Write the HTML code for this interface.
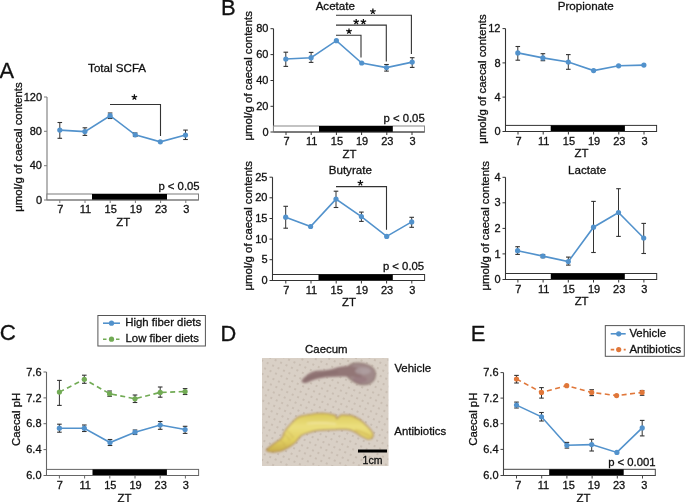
<!DOCTYPE html>
<html><head><meta charset="utf-8"><style>
html,body{margin:0;padding:0;background:#fff;width:685px;height:502px;overflow:hidden}
svg{display:block;will-change:transform}
text{font-family:"Liberation Sans", sans-serif}
</style></head><body>
<svg width="685" height="502" viewBox="0 0 685 502">
<rect width="685" height="502" fill="#fff"/>
<text x="-0.6" y="77.6" font-size="21.8" text-anchor="start" fill="#111" stroke="#111" stroke-width="0.3" >A</text>
<line x1="47" y1="97" x2="47" y2="200" stroke="#7a7a7a" stroke-width="1.1" />
<line x1="44" y1="200" x2="47" y2="200" stroke="#7a7a7a" stroke-width="1" />
<text x="42" y="203.6" font-size="11.0" text-anchor="end" fill="#111" stroke="#111" stroke-width="0.3" >0</text>
<line x1="44" y1="165.7" x2="47" y2="165.7" stroke="#7a7a7a" stroke-width="1" />
<text x="42" y="169.29999999999998" font-size="11.0" text-anchor="end" fill="#111" stroke="#111" stroke-width="0.3" >40</text>
<line x1="44" y1="131.3" x2="47" y2="131.3" stroke="#7a7a7a" stroke-width="1" />
<text x="42" y="134.9" font-size="11.0" text-anchor="end" fill="#111" stroke="#111" stroke-width="0.3" >80</text>
<line x1="44" y1="97" x2="47" y2="97" stroke="#7a7a7a" stroke-width="1" />
<text x="42" y="100.6" font-size="11.0" text-anchor="end" fill="#111" stroke="#111" stroke-width="0.3" >120</text>
<rect x="47" y="194" width="151.5" height="6" fill="#fff" stroke="#7a7a7a" stroke-width="1"/>
<rect x="92" y="194" width="75" height="6" fill="#000"/>
<line x1="47" y1="200" x2="198.5" y2="200" stroke="#7a7a7a" stroke-width="1.1" />
<line x1="59.8" y1="200" x2="59.8" y2="203" stroke="#7a7a7a" stroke-width="1" />
<text x="60.3" y="213.3" font-size="11.0" text-anchor="middle" fill="#111" stroke="#111" stroke-width="0.3" >7</text>
<line x1="85.0" y1="200" x2="85.0" y2="203" stroke="#7a7a7a" stroke-width="1" />
<text x="85.5" y="213.3" font-size="11.0" text-anchor="middle" fill="#111" stroke="#111" stroke-width="0.3" >11</text>
<line x1="110.19999999999999" y1="200" x2="110.19999999999999" y2="203" stroke="#7a7a7a" stroke-width="1" />
<text x="110.69999999999999" y="213.3" font-size="11.0" text-anchor="middle" fill="#111" stroke="#111" stroke-width="0.3" >15</text>
<line x1="135.39999999999998" y1="200" x2="135.39999999999998" y2="203" stroke="#7a7a7a" stroke-width="1" />
<text x="135.89999999999998" y="213.3" font-size="11.0" text-anchor="middle" fill="#111" stroke="#111" stroke-width="0.3" >19</text>
<line x1="160.6" y1="200" x2="160.6" y2="203" stroke="#7a7a7a" stroke-width="1" />
<text x="161.1" y="213.3" font-size="11.0" text-anchor="middle" fill="#111" stroke="#111" stroke-width="0.3" >23</text>
<line x1="185.8" y1="200" x2="185.8" y2="203" stroke="#7a7a7a" stroke-width="1" />
<text x="186.3" y="213.3" font-size="11.0" text-anchor="middle" fill="#111" stroke="#111" stroke-width="0.3" >3</text>
<text x="123.25" y="225.8" font-size="11.4" text-anchor="middle" fill="#111" stroke="#111" stroke-width="0.3" >ZT</text>
<text transform="translate(22.0,147) rotate(-90)" x="0" y="0" font-size="11.4" text-anchor="middle" fill="#111" stroke="#111" stroke-width="0.3">&#956;mol/g of caecal contents</text>
<text x="117.1" y="71.7" font-size="11.6" text-anchor="middle" fill="#111" stroke="#111" stroke-width="0.3" >Total SCFA</text>
<text x="199.6" y="189.5" font-size="11.3" text-anchor="end" fill="#111" stroke="#111" stroke-width="0.3" >p &lt; 0.05</text>
<path d="M110,104.5 L160.5,104.5 L160.5,136" fill="none" stroke="#333" stroke-width="1.1"/>
<path d="M134.40,97.20 L134.40,94.30 M134.40,97.20 L137.16,96.30 M134.40,97.20 L136.10,99.55 M134.40,97.20 L132.70,99.55 M134.40,97.20 L131.64,96.30 " stroke="#111" stroke-width="1.25" stroke-linecap="butt" fill="none"/>
<path d="M59.8,130.1 L84.9,131.6 L110.1,115.7 L135.2,134.8 L160.3,141.8 L185.5,135.1" fill="none" stroke="#5292cc" stroke-width="1.6" />
<line x1="59.8" y1="122.5" x2="59.8" y2="138.3" stroke="#333" stroke-width="1" />
<line x1="57.5" y1="122.5" x2="62.099999999999994" y2="122.5" stroke="#333" stroke-width="1.1" />
<line x1="57.5" y1="138.3" x2="62.099999999999994" y2="138.3" stroke="#333" stroke-width="1.1" />
<line x1="84.9" y1="127.8" x2="84.9" y2="135.4" stroke="#333" stroke-width="1" />
<line x1="82.60000000000001" y1="127.8" x2="87.2" y2="127.8" stroke="#333" stroke-width="1.1" />
<line x1="82.60000000000001" y1="135.4" x2="87.2" y2="135.4" stroke="#333" stroke-width="1.1" />
<line x1="110.1" y1="113" x2="110.1" y2="118.5" stroke="#333" stroke-width="1" />
<line x1="107.8" y1="113" x2="112.39999999999999" y2="113" stroke="#333" stroke-width="1.1" />
<line x1="107.8" y1="118.5" x2="112.39999999999999" y2="118.5" stroke="#333" stroke-width="1.1" />
<line x1="135.2" y1="133" x2="135.2" y2="136.5" stroke="#333" stroke-width="1" />
<line x1="132.89999999999998" y1="133" x2="137.5" y2="133" stroke="#333" stroke-width="1.1" />
<line x1="132.89999999999998" y1="136.5" x2="137.5" y2="136.5" stroke="#333" stroke-width="1.1" />
<line x1="185.5" y1="130.1" x2="185.5" y2="139.5" stroke="#333" stroke-width="1" />
<line x1="183.2" y1="130.1" x2="187.8" y2="130.1" stroke="#333" stroke-width="1.1" />
<line x1="183.2" y1="139.5" x2="187.8" y2="139.5" stroke="#333" stroke-width="1.1" />
<circle cx="59.8" cy="130.1" r="2.6" fill="#5292cc"/>
<circle cx="84.9" cy="131.6" r="2.6" fill="#5292cc"/>
<circle cx="110.1" cy="115.7" r="2.6" fill="#5292cc"/>
<circle cx="135.2" cy="134.8" r="2.6" fill="#5292cc"/>
<circle cx="160.3" cy="141.8" r="2.6" fill="#5292cc"/>
<circle cx="185.5" cy="135.1" r="2.6" fill="#5292cc"/>
<text x="221.1" y="15.15" font-size="22" text-anchor="start" fill="#111" stroke="#111" stroke-width="0.3" >B</text>
<line x1="273.5" y1="28.7" x2="273.5" y2="132.0" stroke="#333" stroke-width="1.1" />
<line x1="270.5" y1="132.0" x2="273.5" y2="132.0" stroke="#333" stroke-width="1" />
<text x="268.5" y="135.6" font-size="11.0" text-anchor="end" fill="#111" stroke="#111" stroke-width="0.3" >0</text>
<line x1="270.5" y1="106.3" x2="273.5" y2="106.3" stroke="#333" stroke-width="1" />
<text x="268.5" y="109.89999999999999" font-size="11.0" text-anchor="end" fill="#111" stroke="#111" stroke-width="0.3" >20</text>
<line x1="270.5" y1="80.5" x2="273.5" y2="80.5" stroke="#333" stroke-width="1" />
<text x="268.5" y="84.1" font-size="11.0" text-anchor="end" fill="#111" stroke="#111" stroke-width="0.3" >40</text>
<line x1="270.5" y1="54.6" x2="273.5" y2="54.6" stroke="#333" stroke-width="1" />
<text x="268.5" y="58.2" font-size="11.0" text-anchor="end" fill="#111" stroke="#111" stroke-width="0.3" >60</text>
<line x1="270.5" y1="28.7" x2="273.5" y2="28.7" stroke="#333" stroke-width="1" />
<text x="268.5" y="32.3" font-size="11.0" text-anchor="end" fill="#111" stroke="#111" stroke-width="0.3" >80</text>
<rect x="273.5" y="126" width="151.0" height="6.0" fill="#fff" stroke="#888" stroke-width="1"/>
<rect x="319" y="126" width="73.80000000000001" height="6.0" fill="#000"/>
<line x1="273.5" y1="132.0" x2="424.5" y2="132.0" stroke="#333" stroke-width="1.1" />
<line x1="286.0" y1="132.0" x2="286.0" y2="135.0" stroke="#333" stroke-width="1" />
<text x="286.5" y="145.3" font-size="11.0" text-anchor="middle" fill="#111" stroke="#111" stroke-width="0.3" >7</text>
<line x1="311.2" y1="132.0" x2="311.2" y2="135.0" stroke="#333" stroke-width="1" />
<text x="311.7" y="145.3" font-size="11.0" text-anchor="middle" fill="#111" stroke="#111" stroke-width="0.3" >11</text>
<line x1="336.4" y1="132.0" x2="336.4" y2="135.0" stroke="#333" stroke-width="1" />
<text x="336.9" y="145.3" font-size="11.0" text-anchor="middle" fill="#111" stroke="#111" stroke-width="0.3" >15</text>
<line x1="361.6" y1="132.0" x2="361.6" y2="135.0" stroke="#333" stroke-width="1" />
<text x="362.1" y="145.3" font-size="11.0" text-anchor="middle" fill="#111" stroke="#111" stroke-width="0.3" >19</text>
<line x1="386.8" y1="132.0" x2="386.8" y2="135.0" stroke="#333" stroke-width="1" />
<text x="387.3" y="145.3" font-size="11.0" text-anchor="middle" fill="#111" stroke="#111" stroke-width="0.3" >23</text>
<line x1="412.0" y1="132.0" x2="412.0" y2="135.0" stroke="#333" stroke-width="1" />
<text x="412.5" y="145.3" font-size="11.0" text-anchor="middle" fill="#111" stroke="#111" stroke-width="0.3" >3</text>
<text x="349.5" y="157.8" font-size="11.4" text-anchor="middle" fill="#111" stroke="#111" stroke-width="0.3" >ZT</text>
<text transform="translate(251.5,75.8) rotate(-90)" x="0" y="0" font-size="11.4" text-anchor="middle" fill="#111" stroke="#111" stroke-width="0.3">&#956;mol/g of caecal contents</text>
<text x="335.3" y="9.9" font-size="11.6" text-anchor="middle" fill="#111" stroke="#111" stroke-width="0.3" >Acetate</text>
<text x="424.7" y="121.9" font-size="11.3" text-anchor="end" fill="#111" stroke="#111" stroke-width="0.3" >p &lt; 0.05</text>
<path d="M336,35.3 L361,35.3 L361,57.5" fill="none" stroke="#333" stroke-width="1.1"/>
<path d="M349.00,31.30 L349.00,28.40 M349.00,31.30 L351.76,30.40 M349.00,31.30 L350.70,33.65 M349.00,31.30 L347.30,33.65 M349.00,31.30 L346.24,30.40 " stroke="#111" stroke-width="1.25" stroke-linecap="butt" fill="none"/>
<path d="M336,25.1 L386.3,25.1 L386.3,61.5" fill="none" stroke="#333" stroke-width="1.1"/>
<path d="M356.20,21.80 L356.20,18.90 M356.20,21.80 L358.96,20.90 M356.20,21.80 L357.90,24.15 M356.20,21.80 L354.50,24.15 M356.20,21.80 L353.44,20.90 " stroke="#111" stroke-width="1.25" stroke-linecap="butt" fill="none"/>
<path d="M363.40,21.80 L363.40,18.90 M363.40,21.80 L366.16,20.90 M363.40,21.80 L365.10,24.15 M363.40,21.80 L361.70,24.15 M363.40,21.80 L360.64,20.90 " stroke="#111" stroke-width="1.25" stroke-linecap="butt" fill="none"/>
<path d="M336,15.2 L411.4,15.2 L411.4,54" fill="none" stroke="#333" stroke-width="1.1"/>
<path d="M372.90,11.50 L372.90,8.60 M372.90,11.50 L375.66,10.60 M372.90,11.50 L374.60,13.85 M372.90,11.50 L371.20,13.85 M372.90,11.50 L370.14,10.60 " stroke="#111" stroke-width="1.25" stroke-linecap="butt" fill="none"/>
<path d="M285.8,59 L311.1,57.7 L336.4,40.7 L361.7,63 L386.5,67.6 L412.2,62.1" fill="none" stroke="#5292cc" stroke-width="1.6" />
<line x1="285.8" y1="52.2" x2="285.8" y2="66.4" stroke="#333" stroke-width="1" />
<line x1="283.5" y1="52.2" x2="288.1" y2="52.2" stroke="#333" stroke-width="1.1" />
<line x1="283.5" y1="66.4" x2="288.1" y2="66.4" stroke="#333" stroke-width="1.1" />
<line x1="311.1" y1="52.4" x2="311.1" y2="62.4" stroke="#333" stroke-width="1" />
<line x1="308.8" y1="52.4" x2="313.40000000000003" y2="52.4" stroke="#333" stroke-width="1.1" />
<line x1="308.8" y1="62.4" x2="313.40000000000003" y2="62.4" stroke="#333" stroke-width="1.1" />
<line x1="386.5" y1="64.5" x2="386.5" y2="71.1" stroke="#333" stroke-width="1" />
<line x1="384.2" y1="64.5" x2="388.8" y2="64.5" stroke="#333" stroke-width="1.1" />
<line x1="384.2" y1="71.1" x2="388.8" y2="71.1" stroke="#333" stroke-width="1.1" />
<line x1="412.2" y1="57.7" x2="412.2" y2="67.4" stroke="#333" stroke-width="1" />
<line x1="409.9" y1="57.7" x2="414.5" y2="57.7" stroke="#333" stroke-width="1.1" />
<line x1="409.9" y1="67.4" x2="414.5" y2="67.4" stroke="#333" stroke-width="1.1" />
<circle cx="285.8" cy="59" r="2.6" fill="#5292cc"/>
<circle cx="311.1" cy="57.7" r="2.6" fill="#5292cc"/>
<circle cx="336.4" cy="40.7" r="2.6" fill="#5292cc"/>
<circle cx="361.7" cy="63" r="2.6" fill="#5292cc"/>
<circle cx="386.5" cy="67.6" r="2.6" fill="#5292cc"/>
<circle cx="412.2" cy="62.1" r="2.6" fill="#5292cc"/>
<line x1="505.5" y1="28.6" x2="505.5" y2="131.5" stroke="#333" stroke-width="1.1" />
<line x1="502.5" y1="131.5" x2="505.5" y2="131.5" stroke="#333" stroke-width="1" />
<text x="500.5" y="135.1" font-size="11.0" text-anchor="end" fill="#111" stroke="#111" stroke-width="0.3" >0</text>
<line x1="502.5" y1="97.1" x2="505.5" y2="97.1" stroke="#333" stroke-width="1" />
<text x="500.5" y="100.69999999999999" font-size="11.0" text-anchor="end" fill="#111" stroke="#111" stroke-width="0.3" >4</text>
<line x1="502.5" y1="62.9" x2="505.5" y2="62.9" stroke="#333" stroke-width="1" />
<text x="500.5" y="66.5" font-size="11.0" text-anchor="end" fill="#111" stroke="#111" stroke-width="0.3" >8</text>
<line x1="502.5" y1="28.6" x2="505.5" y2="28.6" stroke="#333" stroke-width="1" />
<text x="500.5" y="32.2" font-size="11.0" text-anchor="end" fill="#111" stroke="#111" stroke-width="0.3" >12</text>
<rect x="505.5" y="125.4" width="151.10000000000002" height="6.099999999999994" fill="#fff" stroke="#333" stroke-width="1"/>
<rect x="550.7" y="125.4" width="74.19999999999993" height="6.099999999999994" fill="#000"/>
<line x1="505.5" y1="131.5" x2="656.6" y2="131.5" stroke="#333" stroke-width="1.1" />
<line x1="518.0" y1="131.5" x2="518.0" y2="134.5" stroke="#333" stroke-width="1" />
<text x="518.5" y="144.8" font-size="11.0" text-anchor="middle" fill="#111" stroke="#111" stroke-width="0.3" >7</text>
<line x1="543.2" y1="131.5" x2="543.2" y2="134.5" stroke="#333" stroke-width="1" />
<text x="543.7" y="144.8" font-size="11.0" text-anchor="middle" fill="#111" stroke="#111" stroke-width="0.3" >11</text>
<line x1="568.4" y1="131.5" x2="568.4" y2="134.5" stroke="#333" stroke-width="1" />
<text x="568.9" y="144.8" font-size="11.0" text-anchor="middle" fill="#111" stroke="#111" stroke-width="0.3" >15</text>
<line x1="593.6" y1="131.5" x2="593.6" y2="134.5" stroke="#333" stroke-width="1" />
<text x="594.1" y="144.8" font-size="11.0" text-anchor="middle" fill="#111" stroke="#111" stroke-width="0.3" >19</text>
<line x1="618.8" y1="131.5" x2="618.8" y2="134.5" stroke="#333" stroke-width="1" />
<text x="619.3" y="144.8" font-size="11.0" text-anchor="middle" fill="#111" stroke="#111" stroke-width="0.3" >23</text>
<line x1="644.0" y1="131.5" x2="644.0" y2="134.5" stroke="#333" stroke-width="1" />
<text x="644.5" y="144.8" font-size="11.0" text-anchor="middle" fill="#111" stroke="#111" stroke-width="0.3" >3</text>
<text x="581.55" y="157.3" font-size="11.4" text-anchor="middle" fill="#111" stroke="#111" stroke-width="0.3" >ZT</text>
<text transform="translate(485.7,79) rotate(-90)" x="0" y="0" font-size="11.4" text-anchor="middle" fill="#111" stroke="#111" stroke-width="0.3">&#956;mol/g of caecal contents</text>
<text x="585.7" y="9.9" font-size="11.6" text-anchor="middle" fill="#111" stroke="#111" stroke-width="0.3" >Propionate</text>
<path d="M517.8,52.9 L542.9,57.9 L568.3,62 L593.6,70.6 L618.6,65.8 L643.9,65.1" fill="none" stroke="#5292cc" stroke-width="1.6" />
<line x1="517.8" y1="46.5" x2="517.8" y2="60.2" stroke="#333" stroke-width="1" />
<line x1="515.5" y1="46.5" x2="520.0999999999999" y2="46.5" stroke="#333" stroke-width="1.1" />
<line x1="515.5" y1="60.2" x2="520.0999999999999" y2="60.2" stroke="#333" stroke-width="1.1" />
<line x1="542.9" y1="53.7" x2="542.9" y2="60.7" stroke="#333" stroke-width="1" />
<line x1="540.6" y1="53.7" x2="545.1999999999999" y2="53.7" stroke="#333" stroke-width="1.1" />
<line x1="540.6" y1="60.7" x2="545.1999999999999" y2="60.7" stroke="#333" stroke-width="1.1" />
<line x1="568.3" y1="54.6" x2="568.3" y2="69.3" stroke="#333" stroke-width="1" />
<line x1="566.0" y1="54.6" x2="570.5999999999999" y2="54.6" stroke="#333" stroke-width="1.1" />
<line x1="566.0" y1="69.3" x2="570.5999999999999" y2="69.3" stroke="#333" stroke-width="1.1" />
<circle cx="517.8" cy="52.9" r="2.6" fill="#5292cc"/>
<circle cx="542.9" cy="57.9" r="2.6" fill="#5292cc"/>
<circle cx="568.3" cy="62" r="2.6" fill="#5292cc"/>
<circle cx="593.6" cy="70.6" r="2.6" fill="#5292cc"/>
<circle cx="618.6" cy="65.8" r="2.6" fill="#5292cc"/>
<circle cx="643.9" cy="65.1" r="2.6" fill="#5292cc"/>
<line x1="272.5" y1="177.2" x2="272.5" y2="280.5" stroke="#333" stroke-width="1.1" />
<line x1="269.5" y1="280.5" x2="272.5" y2="280.5" stroke="#333" stroke-width="1" />
<text x="267.5" y="284.1" font-size="11.0" text-anchor="end" fill="#111" stroke="#111" stroke-width="0.3" >0</text>
<line x1="269.5" y1="259.7" x2="272.5" y2="259.7" stroke="#333" stroke-width="1" />
<text x="267.5" y="263.3" font-size="11.0" text-anchor="end" fill="#111" stroke="#111" stroke-width="0.3" >5</text>
<line x1="269.5" y1="239.1" x2="272.5" y2="239.1" stroke="#333" stroke-width="1" />
<text x="267.5" y="242.7" font-size="11.0" text-anchor="end" fill="#111" stroke="#111" stroke-width="0.3" >10</text>
<line x1="269.5" y1="218.5" x2="272.5" y2="218.5" stroke="#333" stroke-width="1" />
<text x="267.5" y="222.1" font-size="11.0" text-anchor="end" fill="#111" stroke="#111" stroke-width="0.3" >15</text>
<line x1="269.5" y1="197.8" x2="272.5" y2="197.8" stroke="#333" stroke-width="1" />
<text x="267.5" y="201.4" font-size="11.0" text-anchor="end" fill="#111" stroke="#111" stroke-width="0.3" >20</text>
<line x1="269.5" y1="177.2" x2="272.5" y2="177.2" stroke="#333" stroke-width="1" />
<text x="267.5" y="180.79999999999998" font-size="11.0" text-anchor="end" fill="#111" stroke="#111" stroke-width="0.3" >25</text>
<rect x="272.5" y="274.5" width="152.10000000000002" height="6.0" fill="#fff" stroke="#333" stroke-width="1"/>
<rect x="318.5" y="274.5" width="74.30000000000001" height="6.0" fill="#000"/>
<line x1="272.5" y1="280.5" x2="424.6" y2="280.5" stroke="#333" stroke-width="1.1" />
<line x1="285.8" y1="280.5" x2="285.8" y2="283.5" stroke="#333" stroke-width="1" />
<text x="286.3" y="293.8" font-size="11.0" text-anchor="middle" fill="#111" stroke="#111" stroke-width="0.3" >7</text>
<line x1="311.0" y1="280.5" x2="311.0" y2="283.5" stroke="#333" stroke-width="1" />
<text x="311.5" y="293.8" font-size="11.0" text-anchor="middle" fill="#111" stroke="#111" stroke-width="0.3" >11</text>
<line x1="336.2" y1="280.5" x2="336.2" y2="283.5" stroke="#333" stroke-width="1" />
<text x="336.7" y="293.8" font-size="11.0" text-anchor="middle" fill="#111" stroke="#111" stroke-width="0.3" >15</text>
<line x1="361.4" y1="280.5" x2="361.4" y2="283.5" stroke="#333" stroke-width="1" />
<text x="361.9" y="293.8" font-size="11.0" text-anchor="middle" fill="#111" stroke="#111" stroke-width="0.3" >19</text>
<line x1="386.6" y1="280.5" x2="386.6" y2="283.5" stroke="#333" stroke-width="1" />
<text x="387.1" y="293.8" font-size="11.0" text-anchor="middle" fill="#111" stroke="#111" stroke-width="0.3" >23</text>
<line x1="411.8" y1="280.5" x2="411.8" y2="283.5" stroke="#333" stroke-width="1" />
<text x="412.3" y="293.8" font-size="11.0" text-anchor="middle" fill="#111" stroke="#111" stroke-width="0.3" >3</text>
<text x="349.05" y="306.3" font-size="11.4" text-anchor="middle" fill="#111" stroke="#111" stroke-width="0.3" >ZT</text>
<text transform="translate(251.5,225.8) rotate(-90)" x="0" y="0" font-size="11.4" text-anchor="middle" fill="#111" stroke="#111" stroke-width="0.3">&#956;mol/g of caecal contents</text>
<text x="350.3" y="174.1" font-size="11.6" text-anchor="middle" fill="#111" stroke="#111" stroke-width="0.3" >Butyrate</text>
<text x="424.1" y="269.6" font-size="11.3" text-anchor="end" fill="#111" stroke="#111" stroke-width="0.3" >p &lt; 0.05</text>
<path d="M336,186.6 L386.5,186.6 L386.5,229.8" fill="none" stroke="#333" stroke-width="1.1"/>
<path d="M360.40,183.00 L360.40,180.10 M360.40,183.00 L363.16,182.10 M360.40,183.00 L362.10,185.35 M360.40,183.00 L358.70,185.35 M360.40,183.00 L357.64,182.10 " stroke="#111" stroke-width="1.25" stroke-linecap="butt" fill="none"/>
<path d="M285.7,217.2 L310.6,226.5 L336,199.1 L361.4,216.6 L386.7,236.4 L411.7,221.9" fill="none" stroke="#5292cc" stroke-width="1.6" />
<line x1="285.7" y1="206.3" x2="285.7" y2="228.2" stroke="#333" stroke-width="1" />
<line x1="283.4" y1="206.3" x2="288.0" y2="206.3" stroke="#333" stroke-width="1.1" />
<line x1="283.4" y1="228.2" x2="288.0" y2="228.2" stroke="#333" stroke-width="1.1" />
<line x1="336" y1="191.2" x2="336" y2="207.5" stroke="#333" stroke-width="1" />
<line x1="333.7" y1="191.2" x2="338.3" y2="191.2" stroke="#333" stroke-width="1.1" />
<line x1="333.7" y1="207.5" x2="338.3" y2="207.5" stroke="#333" stroke-width="1.1" />
<line x1="361.4" y1="212.1" x2="361.4" y2="221.4" stroke="#333" stroke-width="1" />
<line x1="359.09999999999997" y1="212.1" x2="363.7" y2="212.1" stroke="#333" stroke-width="1.1" />
<line x1="359.09999999999997" y1="221.4" x2="363.7" y2="221.4" stroke="#333" stroke-width="1.1" />
<line x1="411.7" y1="217.3" x2="411.7" y2="227.3" stroke="#333" stroke-width="1" />
<line x1="409.4" y1="217.3" x2="414.0" y2="217.3" stroke="#333" stroke-width="1.1" />
<line x1="409.4" y1="227.3" x2="414.0" y2="227.3" stroke="#333" stroke-width="1.1" />
<circle cx="285.7" cy="217.2" r="2.6" fill="#5292cc"/>
<circle cx="310.6" cy="226.5" r="2.6" fill="#5292cc"/>
<circle cx="336" cy="199.1" r="2.6" fill="#5292cc"/>
<circle cx="361.4" cy="216.6" r="2.6" fill="#5292cc"/>
<circle cx="386.7" cy="236.4" r="2.6" fill="#5292cc"/>
<circle cx="411.7" cy="221.9" r="2.6" fill="#5292cc"/>
<line x1="505.5" y1="177.3" x2="505.5" y2="279.5" stroke="#333" stroke-width="1.1" />
<line x1="502.5" y1="279.5" x2="505.5" y2="279.5" stroke="#333" stroke-width="1" />
<text x="500.5" y="283.1" font-size="11.0" text-anchor="end" fill="#111" stroke="#111" stroke-width="0.3" >0</text>
<line x1="502.5" y1="253.9" x2="505.5" y2="253.9" stroke="#333" stroke-width="1" />
<text x="500.5" y="257.5" font-size="11.0" text-anchor="end" fill="#111" stroke="#111" stroke-width="0.3" >1</text>
<line x1="502.5" y1="228.4" x2="505.5" y2="228.4" stroke="#333" stroke-width="1" />
<text x="500.5" y="232.0" font-size="11.0" text-anchor="end" fill="#111" stroke="#111" stroke-width="0.3" >2</text>
<line x1="502.5" y1="202.8" x2="505.5" y2="202.8" stroke="#333" stroke-width="1" />
<text x="500.5" y="206.4" font-size="11.0" text-anchor="end" fill="#111" stroke="#111" stroke-width="0.3" >3</text>
<line x1="502.5" y1="177.3" x2="505.5" y2="177.3" stroke="#333" stroke-width="1" />
<text x="500.5" y="180.9" font-size="11.0" text-anchor="end" fill="#111" stroke="#111" stroke-width="0.3" >4</text>
<rect x="505.5" y="273.5" width="151.20000000000005" height="6.0" fill="#fff" stroke="#333" stroke-width="1"/>
<rect x="550.8" y="273.5" width="74.0" height="6.0" fill="#000"/>
<line x1="505.5" y1="279.5" x2="656.7" y2="279.5" stroke="#333" stroke-width="1.1" />
<line x1="517.9" y1="279.5" x2="517.9" y2="282.5" stroke="#333" stroke-width="1" />
<text x="518.4" y="292.8" font-size="11.0" text-anchor="middle" fill="#111" stroke="#111" stroke-width="0.3" >7</text>
<line x1="543.1" y1="279.5" x2="543.1" y2="282.5" stroke="#333" stroke-width="1" />
<text x="543.6" y="292.8" font-size="11.0" text-anchor="middle" fill="#111" stroke="#111" stroke-width="0.3" >11</text>
<line x1="568.3" y1="279.5" x2="568.3" y2="282.5" stroke="#333" stroke-width="1" />
<text x="568.8" y="292.8" font-size="11.0" text-anchor="middle" fill="#111" stroke="#111" stroke-width="0.3" >15</text>
<line x1="593.5" y1="279.5" x2="593.5" y2="282.5" stroke="#333" stroke-width="1" />
<text x="594.0" y="292.8" font-size="11.0" text-anchor="middle" fill="#111" stroke="#111" stroke-width="0.3" >19</text>
<line x1="618.6999999999999" y1="279.5" x2="618.6999999999999" y2="282.5" stroke="#333" stroke-width="1" />
<text x="619.1999999999999" y="292.8" font-size="11.0" text-anchor="middle" fill="#111" stroke="#111" stroke-width="0.3" >23</text>
<line x1="643.9" y1="279.5" x2="643.9" y2="282.5" stroke="#333" stroke-width="1" />
<text x="644.4" y="292.8" font-size="11.0" text-anchor="middle" fill="#111" stroke="#111" stroke-width="0.3" >3</text>
<text x="581.6" y="305.3" font-size="11.4" text-anchor="middle" fill="#111" stroke="#111" stroke-width="0.3" >ZT</text>
<text transform="translate(488.5,225.8) rotate(-90)" x="0" y="0" font-size="11.4" text-anchor="middle" fill="#111" stroke="#111" stroke-width="0.3">&#956;mol/g of caecal contents</text>
<text x="587.1" y="174" font-size="11.6" text-anchor="middle" fill="#111" stroke="#111" stroke-width="0.3" >Lactate</text>
<path d="M517.6,250.7 L542.9,256.1 L568.3,261.6 L593.5,227.2 L618.5,212.5 L643.7,238" fill="none" stroke="#5292cc" stroke-width="1.6" />
<line x1="517.6" y1="246.7" x2="517.6" y2="254.4" stroke="#333" stroke-width="1" />
<line x1="515.3000000000001" y1="246.7" x2="519.9" y2="246.7" stroke="#333" stroke-width="1.1" />
<line x1="515.3000000000001" y1="254.4" x2="519.9" y2="254.4" stroke="#333" stroke-width="1.1" />
<line x1="542.9" y1="254.5" x2="542.9" y2="257.7" stroke="#333" stroke-width="1" />
<line x1="540.6" y1="254.5" x2="545.1999999999999" y2="254.5" stroke="#333" stroke-width="1.1" />
<line x1="540.6" y1="257.7" x2="545.1999999999999" y2="257.7" stroke="#333" stroke-width="1.1" />
<line x1="568.3" y1="257.1" x2="568.3" y2="265.1" stroke="#333" stroke-width="1" />
<line x1="566.0" y1="257.1" x2="570.5999999999999" y2="257.1" stroke="#333" stroke-width="1.1" />
<line x1="566.0" y1="265.1" x2="570.5999999999999" y2="265.1" stroke="#333" stroke-width="1.1" />
<line x1="593.5" y1="201.4" x2="593.5" y2="252.5" stroke="#333" stroke-width="1" />
<line x1="591.2" y1="201.4" x2="595.8" y2="201.4" stroke="#333" stroke-width="1.1" />
<line x1="591.2" y1="252.5" x2="595.8" y2="252.5" stroke="#333" stroke-width="1.1" />
<line x1="618.5" y1="188.7" x2="618.5" y2="236.4" stroke="#333" stroke-width="1" />
<line x1="616.2" y1="188.7" x2="620.8" y2="188.7" stroke="#333" stroke-width="1.1" />
<line x1="616.2" y1="236.4" x2="620.8" y2="236.4" stroke="#333" stroke-width="1.1" />
<line x1="643.7" y1="223.4" x2="643.7" y2="253.5" stroke="#333" stroke-width="1" />
<line x1="641.4000000000001" y1="223.4" x2="646.0" y2="223.4" stroke="#333" stroke-width="1.1" />
<line x1="641.4000000000001" y1="253.5" x2="646.0" y2="253.5" stroke="#333" stroke-width="1.1" />
<circle cx="517.6" cy="250.7" r="2.6" fill="#5292cc"/>
<circle cx="542.9" cy="256.1" r="2.6" fill="#5292cc"/>
<circle cx="568.3" cy="261.6" r="2.6" fill="#5292cc"/>
<circle cx="593.5" cy="227.2" r="2.6" fill="#5292cc"/>
<circle cx="618.5" cy="212.5" r="2.6" fill="#5292cc"/>
<circle cx="643.7" cy="238" r="2.6" fill="#5292cc"/>
<text x="-0.2" y="339.6" font-size="22.3" text-anchor="start" fill="#111" stroke="#111" stroke-width="0.3" >C</text>
<line x1="46.5" y1="372" x2="46.5" y2="475.5" stroke="#666" stroke-width="1.1" />
<line x1="43.5" y1="475.5" x2="46.5" y2="475.5" stroke="#666" stroke-width="1" />
<text x="41.5" y="479.1" font-size="11.0" text-anchor="end" fill="#111" stroke="#111" stroke-width="0.3" >6.0</text>
<line x1="43.5" y1="449.6" x2="46.5" y2="449.6" stroke="#666" stroke-width="1" />
<text x="41.5" y="453.20000000000005" font-size="11.0" text-anchor="end" fill="#111" stroke="#111" stroke-width="0.3" >6.4</text>
<line x1="43.5" y1="423.7" x2="46.5" y2="423.7" stroke="#666" stroke-width="1" />
<text x="41.5" y="427.3" font-size="11.0" text-anchor="end" fill="#111" stroke="#111" stroke-width="0.3" >6.8</text>
<line x1="43.5" y1="397.9" x2="46.5" y2="397.9" stroke="#666" stroke-width="1" />
<text x="41.5" y="401.5" font-size="11.0" text-anchor="end" fill="#111" stroke="#111" stroke-width="0.3" >7.2</text>
<line x1="43.5" y1="372" x2="46.5" y2="372" stroke="#666" stroke-width="1" />
<text x="41.5" y="375.6" font-size="11.0" text-anchor="end" fill="#111" stroke="#111" stroke-width="0.3" >7.6</text>
<rect x="46.5" y="469.4" width="152.1" height="6.100000000000023" fill="#fff" stroke="#666" stroke-width="1"/>
<rect x="92.5" y="469.4" width="74.4" height="6.100000000000023" fill="#000"/>
<line x1="46.5" y1="475.5" x2="198.6" y2="475.5" stroke="#666" stroke-width="1.1" />
<line x1="59.4" y1="475.5" x2="59.4" y2="478.5" stroke="#666" stroke-width="1" />
<text x="59.9" y="488.8" font-size="11.0" text-anchor="middle" fill="#111" stroke="#111" stroke-width="0.3" >7</text>
<line x1="84.6" y1="475.5" x2="84.6" y2="478.5" stroke="#666" stroke-width="1" />
<text x="85.1" y="488.8" font-size="11.0" text-anchor="middle" fill="#111" stroke="#111" stroke-width="0.3" >11</text>
<line x1="109.8" y1="475.5" x2="109.8" y2="478.5" stroke="#666" stroke-width="1" />
<text x="110.3" y="488.8" font-size="11.0" text-anchor="middle" fill="#111" stroke="#111" stroke-width="0.3" >15</text>
<line x1="135.0" y1="475.5" x2="135.0" y2="478.5" stroke="#666" stroke-width="1" />
<text x="135.5" y="488.8" font-size="11.0" text-anchor="middle" fill="#111" stroke="#111" stroke-width="0.3" >19</text>
<line x1="160.2" y1="475.5" x2="160.2" y2="478.5" stroke="#666" stroke-width="1" />
<text x="160.7" y="488.8" font-size="11.0" text-anchor="middle" fill="#111" stroke="#111" stroke-width="0.3" >23</text>
<line x1="185.4" y1="475.5" x2="185.4" y2="478.5" stroke="#666" stroke-width="1" />
<text x="185.9" y="488.8" font-size="11.0" text-anchor="middle" fill="#111" stroke="#111" stroke-width="0.3" >3</text>
<text x="124.45" y="502.3" font-size="11.4" text-anchor="middle" fill="#111" stroke="#111" stroke-width="0.3" >ZT</text>
<text transform="translate(19.8,419.4) rotate(-90)" x="0" y="0" font-size="11.4" text-anchor="middle" fill="#111" stroke="#111" stroke-width="0.3">Caecal pH</text>
<path d="M59.4,392.1 L84.3,379.3 L109.6,393.7 L135,398.8 L160.2,392.4 L185.1,391.6" fill="none" stroke="#72ab55" stroke-width="1.6" stroke-dasharray="5,3.5"/>
<line x1="59.4" y1="380.4" x2="59.4" y2="405.4" stroke="#333" stroke-width="1" />
<line x1="57.1" y1="380.4" x2="61.699999999999996" y2="380.4" stroke="#333" stroke-width="1.1" />
<line x1="57.1" y1="405.4" x2="61.699999999999996" y2="405.4" stroke="#333" stroke-width="1.1" />
<line x1="84.3" y1="375.2" x2="84.3" y2="383.3" stroke="#333" stroke-width="1" />
<line x1="82.0" y1="375.2" x2="86.6" y2="375.2" stroke="#333" stroke-width="1.1" />
<line x1="82.0" y1="383.3" x2="86.6" y2="383.3" stroke="#333" stroke-width="1.1" />
<line x1="109.6" y1="391" x2="109.6" y2="396.3" stroke="#333" stroke-width="1" />
<line x1="107.3" y1="391" x2="111.89999999999999" y2="391" stroke="#333" stroke-width="1.1" />
<line x1="107.3" y1="396.3" x2="111.89999999999999" y2="396.3" stroke="#333" stroke-width="1.1" />
<line x1="135" y1="395" x2="135" y2="402.5" stroke="#333" stroke-width="1" />
<line x1="132.7" y1="395" x2="137.3" y2="395" stroke="#333" stroke-width="1.1" />
<line x1="132.7" y1="402.5" x2="137.3" y2="402.5" stroke="#333" stroke-width="1.1" />
<line x1="160.2" y1="387" x2="160.2" y2="397.2" stroke="#333" stroke-width="1" />
<line x1="157.89999999999998" y1="387" x2="162.5" y2="387" stroke="#333" stroke-width="1.1" />
<line x1="157.89999999999998" y1="397.2" x2="162.5" y2="397.2" stroke="#333" stroke-width="1.1" />
<line x1="185.1" y1="388.6" x2="185.1" y2="394.5" stroke="#333" stroke-width="1" />
<line x1="182.79999999999998" y1="388.6" x2="187.4" y2="388.6" stroke="#333" stroke-width="1.1" />
<line x1="182.79999999999998" y1="394.5" x2="187.4" y2="394.5" stroke="#333" stroke-width="1.1" />
<circle cx="59.4" cy="392.1" r="2.6" fill="#72ab55"/>
<circle cx="84.3" cy="379.3" r="2.6" fill="#72ab55"/>
<circle cx="109.6" cy="393.7" r="2.6" fill="#72ab55"/>
<circle cx="135" cy="398.8" r="2.6" fill="#72ab55"/>
<circle cx="160.2" cy="392.4" r="2.6" fill="#72ab55"/>
<circle cx="185.1" cy="391.6" r="2.6" fill="#72ab55"/>
<path d="M59.4,428.2 L84.3,428.2 L110,442.5 L135,432.2 L160.2,425 L185.1,429.5" fill="none" stroke="#5292cc" stroke-width="1.6" />
<line x1="59.4" y1="424.2" x2="59.4" y2="432.2" stroke="#333" stroke-width="1" />
<line x1="57.1" y1="424.2" x2="61.699999999999996" y2="424.2" stroke="#333" stroke-width="1.1" />
<line x1="57.1" y1="432.2" x2="61.699999999999996" y2="432.2" stroke="#333" stroke-width="1.1" />
<line x1="84.3" y1="425" x2="84.3" y2="431.5" stroke="#333" stroke-width="1" />
<line x1="82.0" y1="425" x2="86.6" y2="425" stroke="#333" stroke-width="1.1" />
<line x1="82.0" y1="431.5" x2="86.6" y2="431.5" stroke="#333" stroke-width="1.1" />
<line x1="110" y1="439.5" x2="110" y2="445.5" stroke="#333" stroke-width="1" />
<line x1="107.7" y1="439.5" x2="112.3" y2="439.5" stroke="#333" stroke-width="1.1" />
<line x1="107.7" y1="445.5" x2="112.3" y2="445.5" stroke="#333" stroke-width="1.1" />
<line x1="135" y1="430" x2="135" y2="434.5" stroke="#333" stroke-width="1" />
<line x1="132.7" y1="430" x2="137.3" y2="430" stroke="#333" stroke-width="1.1" />
<line x1="132.7" y1="434.5" x2="137.3" y2="434.5" stroke="#333" stroke-width="1.1" />
<line x1="160.2" y1="421.5" x2="160.2" y2="429.3" stroke="#333" stroke-width="1" />
<line x1="157.89999999999998" y1="421.5" x2="162.5" y2="421.5" stroke="#333" stroke-width="1.1" />
<line x1="157.89999999999998" y1="429.3" x2="162.5" y2="429.3" stroke="#333" stroke-width="1.1" />
<line x1="185.1" y1="426.3" x2="185.1" y2="433.4" stroke="#333" stroke-width="1" />
<line x1="182.79999999999998" y1="426.3" x2="187.4" y2="426.3" stroke="#333" stroke-width="1.1" />
<line x1="182.79999999999998" y1="433.4" x2="187.4" y2="433.4" stroke="#333" stroke-width="1.1" />
<circle cx="59.4" cy="428.2" r="2.6" fill="#5292cc"/>
<circle cx="84.3" cy="428.2" r="2.6" fill="#5292cc"/>
<circle cx="110" cy="442.5" r="2.6" fill="#5292cc"/>
<circle cx="135" cy="432.2" r="2.6" fill="#5292cc"/>
<circle cx="160.2" cy="425" r="2.6" fill="#5292cc"/>
<circle cx="185.1" cy="429.5" r="2.6" fill="#5292cc"/>
<rect x="97.9" y="315.5" width="107.5" height="30.5" fill="#fff" stroke="#555" stroke-width="1"/>
<line x1="103" y1="323.2" x2="120" y2="323.2" stroke="#5292cc" stroke-width="1.6" />
<circle cx="111.5" cy="323.2" r="2.6" fill="#5292cc"/>
<line x1="103" y1="339.2" x2="120" y2="339.2" stroke="#72ab55" stroke-width="1.6" stroke-dasharray="3.5,3"/>
<circle cx="111.5" cy="339.2" r="2.6" fill="#72ab55"/>
<text x="125.2" y="326.3" font-size="11.4" text-anchor="start" fill="#111" stroke="#111" stroke-width="0.3" >High fiber diets</text>
<text x="125.5" y="342.2" font-size="11.4" text-anchor="start" fill="#111" stroke="#111" stroke-width="0.3" >Low fiber diets</text>
<text x="220.5" y="340.9" font-size="21.8" text-anchor="start" fill="#111" stroke="#111" stroke-width="0.3" >D</text>
<text x="326.3" y="352.8" font-size="11.4" text-anchor="middle" fill="#111" stroke="#111" stroke-width="0.3" >Caecum</text>
<text x="394.4" y="371.7" font-size="11.4" text-anchor="start" fill="#111" stroke="#111" stroke-width="0.3" >Vehicle</text>
<text x="394.3" y="434.8" font-size="11.4" text-anchor="start" fill="#111" stroke="#111" stroke-width="0.3" >Antibiotics</text>
<defs>
<pattern id="dots" x="262" y="358" width="6" height="6" patternUnits="userSpaceOnUse" patternTransform="rotate(25)">
<rect width="6" height="6" fill="#d9d0c6"/>
<circle cx="2" cy="2" r="0.9" fill="#c2b6aa"/>
</pattern>
<filter id="grain" x="0" y="0" width="100%" height="100%">
<feTurbulence type="fractalNoise" baseFrequency="0.35" numOctaves="2" seed="3" result="n"/>
<feColorMatrix in="n" type="matrix" values="0 0 0 0 0.5  0 0 0 0 0.45  0 0 0 0 0.4  0 0 0 0.22 0" result="c"/>
<feComposite in="c" in2="SourceGraphic" operator="in" result="cc"/>
<feBlend in="cc" in2="SourceGraphic" mode="multiply"/>
</filter>
<filter id="soft" x="-20%" y="-50%" width="140%" height="200%"><feGaussianBlur stdDeviation="0.9"/></filter>
<filter id="soft2" x="-20%" y="-50%" width="140%" height="200%"><feGaussianBlur stdDeviation="1.2"/></filter>
<linearGradient id="yel" x1="0" y1="0" x2="0" y2="1">
<stop offset="0" stop-color="#dac858"/><stop offset="0.35" stop-color="#ebdf7e"/><stop offset="0.7" stop-color="#e2d062"/><stop offset="1" stop-color="#c8ac4a"/>
</linearGradient>
</defs>
<rect x="262" y="358" width="126.5" height="108" fill="url(#dots)"/>
<g filter="url(#soft)">
<path d="M347,368 C350,363 358,362.5 365,364 C372,366 376,370 375.5,375 C375,381 371,384.5 364,384.8 C358,385 354,382 350,379 C346,376 345,371 347,368 Z" fill="#a08a8a" stroke="#8d766e" stroke-width="1.1"/>
<path d="M301.4,381 C303,378 306,375.6 309,373.5 C312,371.5 316,370.5 320,370.5 C326,370.8 330,369.5 334,368.5 C338,367 343,366 349,366 C354,366.5 358,368 361,370 L362,377.5 C357,377 352,376.5 346,376.5 C340,376.5 332,377 326,377.2 C320,378 315,379 311,381 C307,383 303,384.5 301.4,381 Z" fill="#927676"/>
<ellipse cx="363" cy="371" rx="8" ry="3.5" fill="#b3a5a8" opacity="0.7"/>
<ellipse cx="360" cy="379.5" rx="7" ry="3.5" fill="#93737a" opacity="0.55"/>
<path d="M305,380 C311,376 320,374 338,372" stroke="#7e6264" stroke-width="1.3" fill="none" opacity="0.6"/>
</g>
<g filter="url(#soft)">
<path d="M266.3,450 C269,447 272,445 274.4,443.3 C278,441 281,439.5 282.5,437 C283,434 284,432 286,429.5 C289,426 293,421 297.3,417.6 C300,416 303,415.4 306,415 C312,414 317,413.2 322,413 C327,413.3 331,414 335.5,415.4 L336.8,418.5 L340.8,415 C344,414.8 348,415 351.3,415.4 C355,416.8 358,418.5 360,419.8 C363,422 365,424 367,425.9 C369,428 371,430 372.3,432 C373.5,434 373.5,436 372.5,437.5 C371,439.5 369,439.5 367,439 C364,437.5 362,436.5 360,435.5 C358,434 356.5,433 354.8,432 C352,430.5 349,429.6 346.9,429.4 C343.5,429.2 341,429.3 338.1,429.4 C331,429.8 325,430 318,430.3 C313,431 309,432.5 305,433.8 C302,435 300.5,436 300.2,436.7 C298,439 297,440.5 295.4,442.4 C293,444.5 291,446 288.7,447.2 C286,448.8 284,450 281.1,451 C278,451.8 275,452.2 271.6,452 C269,451.8 267,451.5 266.3,450 Z" fill="url(#yel)" stroke="#b08a58" stroke-width="1.2"/>
<path d="M307,423.5 C316,422.5 328,423 336,424" stroke="#f4e9a8" stroke-width="1.6" fill="none" opacity="0.8"/>
<path d="M284,434 C287,436 289,438 290,441 M287,431 C290,433 292,435 293,438 M280,440 C283,442 285,444 285,447" stroke="#c4a850" stroke-width="0.9" fill="none" opacity="0.8"/>
<path d="M355,430 C362,432 368,435 371,437" stroke="#caa94e" stroke-width="2" fill="none" opacity="0.5"/>
</g>
<rect x="358" y="449.5" width="29" height="3" fill="#000"/>
<text x="372.5" y="463.8" font-size="10.5" text-anchor="middle" fill="#111" stroke="#111" stroke-width="0.3" >1cm</text>
<text x="470.8" y="341" font-size="22" text-anchor="start" fill="#111" stroke="#111" stroke-width="0.3" >E</text>
<line x1="503.5" y1="372.6" x2="503.5" y2="475.5" stroke="#444" stroke-width="1.1" />
<line x1="500.5" y1="475.5" x2="503.5" y2="475.5" stroke="#444" stroke-width="1" />
<text x="498.5" y="479.1" font-size="11.0" text-anchor="end" fill="#111" stroke="#111" stroke-width="0.3" >6.0</text>
<line x1="500.5" y1="449.4" x2="503.5" y2="449.4" stroke="#444" stroke-width="1" />
<text x="498.5" y="453.0" font-size="11.0" text-anchor="end" fill="#111" stroke="#111" stroke-width="0.3" >6.4</text>
<line x1="500.5" y1="423.7" x2="503.5" y2="423.7" stroke="#444" stroke-width="1" />
<text x="498.5" y="427.3" font-size="11.0" text-anchor="end" fill="#111" stroke="#111" stroke-width="0.3" >6.8</text>
<line x1="500.5" y1="398.1" x2="503.5" y2="398.1" stroke="#444" stroke-width="1" />
<text x="498.5" y="401.70000000000005" font-size="11.0" text-anchor="end" fill="#111" stroke="#111" stroke-width="0.3" >7.2</text>
<line x1="500.5" y1="372.6" x2="503.5" y2="372.6" stroke="#444" stroke-width="1" />
<text x="498.5" y="376.20000000000005" font-size="11.0" text-anchor="end" fill="#111" stroke="#111" stroke-width="0.3" >7.6</text>
<rect x="503.5" y="469.3" width="151.79999999999995" height="6.199999999999989" fill="#fff" stroke="#444" stroke-width="1"/>
<rect x="549.2" y="469.3" width="74.5" height="6.199999999999989" fill="#000"/>
<line x1="503.5" y1="475.5" x2="655.3" y2="475.5" stroke="#444" stroke-width="1.1" />
<line x1="516.5" y1="475.5" x2="516.5" y2="478.5" stroke="#444" stroke-width="1" />
<text x="518.3" y="488.8" font-size="11.0" text-anchor="middle" fill="#111" stroke="#111" stroke-width="0.3" >7</text>
<line x1="541.7" y1="475.5" x2="541.7" y2="478.5" stroke="#444" stroke-width="1" />
<text x="543.5" y="488.8" font-size="11.0" text-anchor="middle" fill="#111" stroke="#111" stroke-width="0.3" >11</text>
<line x1="566.9" y1="475.5" x2="566.9" y2="478.5" stroke="#444" stroke-width="1" />
<text x="568.6999999999999" y="488.8" font-size="11.0" text-anchor="middle" fill="#111" stroke="#111" stroke-width="0.3" >15</text>
<line x1="592.1" y1="475.5" x2="592.1" y2="478.5" stroke="#444" stroke-width="1" />
<text x="593.9" y="488.8" font-size="11.0" text-anchor="middle" fill="#111" stroke="#111" stroke-width="0.3" >19</text>
<line x1="617.3" y1="475.5" x2="617.3" y2="478.5" stroke="#444" stroke-width="1" />
<text x="619.0999999999999" y="488.8" font-size="11.0" text-anchor="middle" fill="#111" stroke="#111" stroke-width="0.3" >23</text>
<line x1="642.5" y1="475.5" x2="642.5" y2="478.5" stroke="#444" stroke-width="1" />
<text x="644.3" y="488.8" font-size="11.0" text-anchor="middle" fill="#111" stroke="#111" stroke-width="0.3" >3</text>
<text x="583.4" y="502.0" font-size="11.4" text-anchor="middle" fill="#111" stroke="#111" stroke-width="0.3" >ZT</text>
<text transform="translate(477.0,419.2) rotate(-90)" x="0" y="0" font-size="11.4" text-anchor="middle" fill="#111" stroke="#111" stroke-width="0.3">Caecal pH</text>
<text x="655.6" y="466.1" font-size="11.3" text-anchor="end" fill="#111" stroke="#111" stroke-width="0.3" >p &lt; 0.001</text>
<path d="M516.5,379 L541.5,392.4 L566.7,385.7 L591.7,392.4 L616.6,395.6 L642.1,392.4" fill="none" stroke="#e0773a" stroke-width="1.6" stroke-dasharray="5,3.5"/>
<line x1="516.5" y1="375.4" x2="516.5" y2="383" stroke="#333" stroke-width="1" />
<line x1="514.2" y1="375.4" x2="518.8" y2="375.4" stroke="#333" stroke-width="1.1" />
<line x1="514.2" y1="383" x2="518.8" y2="383" stroke="#333" stroke-width="1.1" />
<line x1="541.5" y1="387.6" x2="541.5" y2="398.1" stroke="#333" stroke-width="1" />
<line x1="539.2" y1="387.6" x2="543.8" y2="387.6" stroke="#333" stroke-width="1.1" />
<line x1="539.2" y1="398.1" x2="543.8" y2="398.1" stroke="#333" stroke-width="1.1" />
<line x1="591.7" y1="389.7" x2="591.7" y2="395.6" stroke="#333" stroke-width="1" />
<line x1="589.4000000000001" y1="389.7" x2="594.0" y2="389.7" stroke="#333" stroke-width="1.1" />
<line x1="589.4000000000001" y1="395.6" x2="594.0" y2="395.6" stroke="#333" stroke-width="1.1" />
<line x1="642.1" y1="390.5" x2="642.1" y2="395.3" stroke="#333" stroke-width="1" />
<line x1="639.8000000000001" y1="390.5" x2="644.4" y2="390.5" stroke="#333" stroke-width="1.1" />
<line x1="639.8000000000001" y1="395.3" x2="644.4" y2="395.3" stroke="#333" stroke-width="1.1" />
<circle cx="516.5" cy="379" r="2.6" fill="#e0773a"/>
<circle cx="541.5" cy="392.4" r="2.6" fill="#e0773a"/>
<circle cx="566.7" cy="385.7" r="2.6" fill="#e0773a"/>
<circle cx="591.7" cy="392.4" r="2.6" fill="#e0773a"/>
<circle cx="616.6" cy="395.6" r="2.6" fill="#e0773a"/>
<circle cx="642.1" cy="392.4" r="2.6" fill="#e0773a"/>
<path d="M516.5,405.1 L541.5,416.8 L566.9,445.3 L591.7,444.6 L616.9,452.4 L642.2,427.9" fill="none" stroke="#5292cc" stroke-width="1.6" />
<line x1="516.5" y1="402.1" x2="516.5" y2="408" stroke="#333" stroke-width="1" />
<line x1="514.2" y1="402.1" x2="518.8" y2="402.1" stroke="#333" stroke-width="1.1" />
<line x1="514.2" y1="408" x2="518.8" y2="408" stroke="#333" stroke-width="1.1" />
<line x1="541.5" y1="412.5" x2="541.5" y2="421" stroke="#333" stroke-width="1" />
<line x1="539.2" y1="412.5" x2="543.8" y2="412.5" stroke="#333" stroke-width="1.1" />
<line x1="539.2" y1="421" x2="543.8" y2="421" stroke="#333" stroke-width="1.1" />
<line x1="566.9" y1="442.4" x2="566.9" y2="448.1" stroke="#333" stroke-width="1" />
<line x1="564.6" y1="442.4" x2="569.1999999999999" y2="442.4" stroke="#333" stroke-width="1.1" />
<line x1="564.6" y1="448.1" x2="569.1999999999999" y2="448.1" stroke="#333" stroke-width="1.1" />
<line x1="591.7" y1="439.3" x2="591.7" y2="451" stroke="#333" stroke-width="1" />
<line x1="589.4000000000001" y1="439.3" x2="594.0" y2="439.3" stroke="#333" stroke-width="1.1" />
<line x1="589.4000000000001" y1="451" x2="594.0" y2="451" stroke="#333" stroke-width="1.1" />
<line x1="642.2" y1="420.4" x2="642.2" y2="435.9" stroke="#333" stroke-width="1" />
<line x1="639.9000000000001" y1="420.4" x2="644.5" y2="420.4" stroke="#333" stroke-width="1.1" />
<line x1="639.9000000000001" y1="435.9" x2="644.5" y2="435.9" stroke="#333" stroke-width="1.1" />
<circle cx="516.5" cy="405.1" r="2.6" fill="#5292cc"/>
<circle cx="541.5" cy="416.8" r="2.6" fill="#5292cc"/>
<circle cx="566.9" cy="445.3" r="2.6" fill="#5292cc"/>
<circle cx="591.7" cy="444.6" r="2.6" fill="#5292cc"/>
<circle cx="616.9" cy="452.4" r="2.6" fill="#5292cc"/>
<circle cx="642.2" cy="427.9" r="2.6" fill="#5292cc"/>
<rect x="605.3" y="325.6" width="79" height="30.7" fill="#fff" stroke="#555" stroke-width="1"/>
<line x1="610.7" y1="333.8" x2="625.7" y2="333.8" stroke="#5292cc" stroke-width="1.6" />
<circle cx="618.7" cy="333.8" r="2.6" fill="#5292cc"/>
<line x1="610.7" y1="349.6" x2="625.7" y2="349.6" stroke="#e0773a" stroke-width="1.6" stroke-dasharray="3.5,3"/>
<circle cx="618.7" cy="349.6" r="2.6" fill="#e0773a"/>
<text x="629.4" y="336.8" font-size="11.4" text-anchor="start" fill="#111" stroke="#111" stroke-width="0.3" >Vehicle</text>
<text x="629.4" y="352.6" font-size="11.4" text-anchor="start" fill="#111" stroke="#111" stroke-width="0.3" >Antibiotics</text>
</svg>
</body></html>
